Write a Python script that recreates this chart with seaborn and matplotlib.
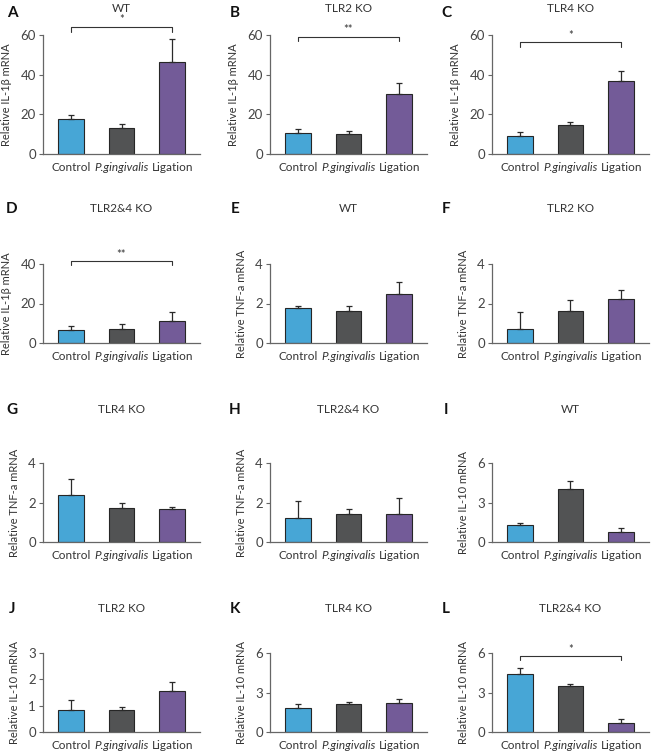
import numpy as np
import matplotlib
matplotlib.use("Agg")
import matplotlib.pyplot as plt
import seaborn as sns

groups = ["Control", "P.gingivalis", "Ligation"]
colors = ["#47a6d6", "#525354", "#735b98"]

# IL-1beta
il1b_wt = [17.4, 13.2, 46.4]
il1b_wt_err = [2.5, 2.1, 11.6]
il1b_tlr2 = [10.8, 9.9, 30.5]
il1b_tlr2_err = [1.8, 1.9, 5.1]
il1b_tlr4 = [9.2, 14.6, 36.8]
il1b_tlr4_err = [2.1, 1.4, 4.9]
il1b_dko = [6.6, 7.3, 11.1]
il1b_dko_err = [2.0, 2.2, 4.6]

# TNF-a
tnf_wt = [1.79, 1.64, 2.48]
tnf_wt_err = [0.07, 0.23, 0.59]
tnf_tlr2 = [0.71, 1.62, 2.24]
tnf_tlr2_err = [0.88, 0.57, 0.44]
tnf_tlr4 = [2.40, 1.74, 1.65]
tnf_tlr4_err = [0.79, 0.22, 0.14]
tnf_dko = [1.22, 1.43, 1.43]
tnf_dko_err = [0.86, 0.22, 0.81]

# IL-10
il10_wt = [1.27, 4.00, 0.73]
il10_wt_err = [0.17, 0.61, 0.31]
il10_tlr2 = [0.82, 0.83, 1.55]
il10_tlr2_err = [0.39, 0.12, 0.33]
il10_tlr4 = [1.79, 2.09, 2.22]
il10_tlr4_err = [0.33, 0.16, 0.31]
il10_dko = [4.42, 3.47, 0.66]
il10_dko_err = [0.43, 0.16, 0.36]

il1b_lab = "Relative IL-1\u03b2 mRNA"
tnf_lab = "Relative TNF-a mRNA"
il10_lab = "Relative IL-10 mRNA"

# letter, title, ylabel, means, errs, yticks, (bracket height, stars)
panels = [
    ("A", "WT", il1b_lab, il1b_wt, il1b_wt_err, [0, 20, 40, 60], (63.9, "*")),
    ("B", "TLR2 KO", il1b_lab, il1b_tlr2, il1b_tlr2_err, [0, 20, 40, 60], (59.2, "**")),
    ("C", "TLR4 KO", il1b_lab, il1b_tlr4, il1b_tlr4_err, [0, 20, 40, 60], (56.3, "*")),
    ("D", "TLR2&4 KO", il1b_lab, il1b_dko, il1b_dko_err, [0, 20, 40], (41.3, "**")),
    ("E", "WT", tnf_lab, tnf_wt, tnf_wt_err, [0, 2, 4], None),
    ("F", "TLR2 KO", tnf_lab, tnf_tlr2, tnf_tlr2_err, [0, 2, 4], None),
    ("G", "TLR4 KO", tnf_lab, tnf_tlr4, tnf_tlr4_err, [0, 2, 4], None),
    ("H", "TLR2&4 KO", tnf_lab, tnf_dko, tnf_dko_err, [0, 2, 4], None),
    ("I", "WT", il10_lab, il10_wt, il10_wt_err, [0, 3, 6], None),
    ("J", "TLR2 KO", il10_lab, il10_tlr2, il10_tlr2_err, [0, 1, 2, 3], None),
    ("K", "TLR4 KO", il10_lab, il10_tlr4, il10_tlr4_err, [0, 3, 6], None),
    ("L", "TLR2&4 KO", il10_lab, il10_dko, il10_dko_err, [0, 3, 6], (5.74, "*")),
]

sns.set_theme(style="ticks")
plt.rcParams["font.family"] = ["Lato", "DejaVu Sans"]

W, H = 651, 754
fig = plt.figure(figsize=(W / 100, H / 100), dpi=100)

# pixel layout (from top-left)
col_x = [43, 270, 492]
ax_w = 157
rows = [(35, 154), (264, 343), (463, 542), (653, 732)]
letter_x = [12, 235, 446]
letter_y = [13, 209, 410, 609]
title_y = [9, 209, 410, 609]

for i, (letter, title, ylab, means, errs, yt, sig) in enumerate(panels):
    r, c = divmod(i, 3)
    top, bot = rows[r]
    ax = fig.add_axes([col_x[c] / W, 1 - bot / H, ax_w / W, (bot - top) / H])
    sns.barplot(x=groups, y=means, hue=groups, palette=colors, ax=ax,
                width=0.5, saturation=1, edgecolor="#262626", linewidth=0.8,
                legend=False)
    pos = np.arange(len(groups))
    ax.errorbar(pos, means, yerr=[np.zeros(len(errs)), errs], fmt="none",
                ecolor="#2a2a2a", elinewidth=0.9, capsize=2.5, capthick=0.9,
                zorder=3)
    ax.set_xlim(-0.55, 2.55)
    ax.set_ylim(0, yt[-1])
    ax.set_yticks(yt)
    ax.set_ylabel(ylab, fontsize=8, color="#333333", labelpad=6)
    ax.set_xlabel("")
    sns.despine(ax=ax)
    for s in ["left", "bottom"]:
        ax.spines[s].set_color("#666666")
        ax.spines[s].set_linewidth(0.9)
    ax.tick_params(axis="x", length=0, labelsize=8.5, colors="#333333", pad=6)
    ax.tick_params(axis="y", length=3, width=0.8, color="#666666",
                   labelsize=9.5, labelcolor="#444444", pad=2)
    ax.get_xticklabels()[1].set_fontstyle("italic")

    if sig is not None:
        h, stars = sig
        span = yt[-1]
        d = span * 0.04
        ax.plot([pos[0], pos[0], pos[-1], pos[-1]], [h - d, h, h, h - d],
                color="#333333", lw=0.8, clip_on=False)
        ax.text((pos[0] + pos[-1]) / 2, h + span * 0.015, stars, ha="center",
                va="bottom", fontsize=8, color="#333333", clip_on=False)

    cx = (col_x[c] + ax_w / 2) / W
    fig.text(cx, 1 - title_y[r] / H, title, ha="center", va="center",
             fontsize=8.5, color="#333333")
    fig.text(letter_x[c] / W, 1 - letter_y[r] / H, letter, ha="center",
             va="center", fontsize=11, fontweight="bold", color="#111111")

fig.savefig("out.png", dpi=100)
